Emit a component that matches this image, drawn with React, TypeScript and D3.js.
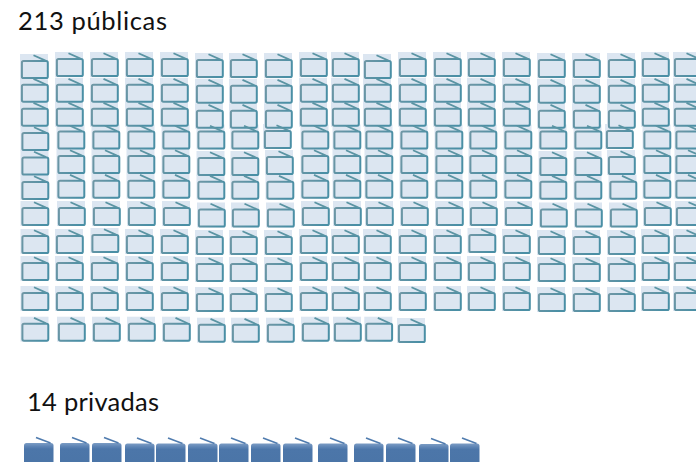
import React from "react";
import * as d3 from "d3";

const W = 696, H = 462;
const categories = ["públicas", "privadas"];
const totals = [213, 14];
const publicRowCounts = [20, 20, 20, 20, 20, 20, 20, 20, 20, 20, 12];
const privateCount = 14;

// Layout of the hand-placed pictogram
const colLeft = [20, 55, 90, 125, 160, 195, 229, 264, 299, 331, 363, 398, 433, 467, 502, 537, 572, 607, 641, 673];
const rowTop = [52, 77.7, 101.7, 124.5, 149, 173.7, 201, 229, 256, 286, 316.7];
const rowShiftX = [0, 0, 0, 1.5, 1.5, 1.5, 2, 0, 0, 0, 2];
const rowGroupDy = [1, 1, 2, 0, 2, 1, 1.5, 1, 1, 1, 1];
const nudgedCols = [5, 6, 7, 15, 16, 17];
const firstColDy = [2, 0, 0, 1.5, 1.5, 1.3, 0, 0, 0, 0, 0];
const tweaks: [number, number, number, number][] = [
  [3, 7, -0.5, -2.5], [3, 17, -0.5, -3.5], [4, 7, -1, -0.5], [4, 17, -1, -1.5],
  [7, 2, -1, 0.5], [7, 13, -1, 0.5], [10, 10, 0, -0.7], [10, 11, 1.3, -3],
];
const privLeft = [24, 60, 92, 125, 156, 188, 219, 251, 283, 318, 354, 386, 419, 450];
const privDy = [0, 0, 0, 0.5, 0.5, 0.5, 0.5, 0.5, 0.5, 0.5, 0.5, 0.5, 1, 0.5];

const xCol = d3.scaleOrdinal<number, number>().domain(d3.range(colLeft.length)).range(colLeft);
const yRow = d3.scaleOrdinal<number, number>().domain(d3.range(rowTop.length)).range(rowTop);
const xPriv = d3.scaleOrdinal<number, number>().domain(d3.range(privLeft.length)).range(privLeft);

function Backdrop({ x, y }: { x: number; y: number }) {
  return <rect x={x} y={y} width={28} height={25} fill="#dce6f1" />;
}

function Outline({ x, y }: { x: number; y: number }) {
  return (
    <g>
      <rect x={x + 1.9} y={y + 7.1} width={25.9} height={16.9} rx={1.6} fill="none" stroke="url(#edge)" strokeWidth={2} />
      <path d={d3.line()([[x + 13.5, y + 1.2], [x + 25.5, y + 6.6]])!} stroke="#5a94a3" strokeWidth={1.8} fill="none" />
    </g>
  );
}

function Solid({ x, y }: { x: number; y: number }) {
  return (
    <g>
      <rect x={x} y={y + 6} width={29.5} height={30} rx={2.5} fill="url(#solid)" />
      <path d={d3.line()([[x + 12, y + 0.5], [x + 26.5, y + 6]])!} stroke="#4f7bae" strokeWidth={1.6} fill="none" />
    </g>
  );
}

export default function App() {
  const cells = publicRowCounts.flatMap((n, r) =>
    d3.range(n).map((c) => {
      const t = tweaks.find((k) => k[0] === r && k[1] === c);
      const dy = c === 0 ? firstColDy[r] : nudgedCols.includes(c) ? rowGroupDy[r] : c === 10 && r === 0 ? 2 : 0;
      const dx = c === 0 ? (r >= 3 ? 0.5 : 0) : rowShiftX[r];
      return { key: `${r}-${c}`, x: xCol(c) + dx + (t ? t[3] : 0), y: yRow(r) + dy + (t ? t[2] : 0) };
    })
  );
  return (
    <svg width={W} height={H} style={{ position: "absolute", left: 0, top: 0, background: "#fff" }}>
      <defs>
        <linearGradient id="solid" x1="0" x2="0" y1="0" y2="1">
          <stop offset="0" stopColor="#7b9cc4" />
          <stop offset="0.12" stopColor="#5c83b4" />
          <stop offset="0.2" stopColor="#4c76a9" />
          <stop offset="1" stopColor="#4a74a6" />
        </linearGradient>
        <linearGradient id="edge" x1="0" x2="1" y1="0" y2="0.4">
          <stop offset="0" stopColor="#6f97a5" />
          <stop offset="1" stopColor="#4a8fa5" />
        </linearGradient>
      </defs>
      <text x={18} y={29.5} fontFamily="Lato" fontWeight={400} fontSize={25.5} fill="#111" textLength={149}>{`${totals[0]} ${categories[0]}`}</text>
      {cells.map((d) => <Backdrop key={d.key} x={d.x} y={d.y} />)}
      {cells.map((d) => <Outline key={d.key} x={d.x} y={d.y} />)}
      <text x={27} y={411} fontFamily="Lato" fontWeight={400} fontSize={25.5} fill="#111" textLength={132}>{`${totals[1]} ${categories[1]}`}</text>
      {d3.range(privateCount).map((i) => <Solid key={i} x={xPriv(i)} y={437 + privDy[i]} />)}
    </svg>
  );
}
